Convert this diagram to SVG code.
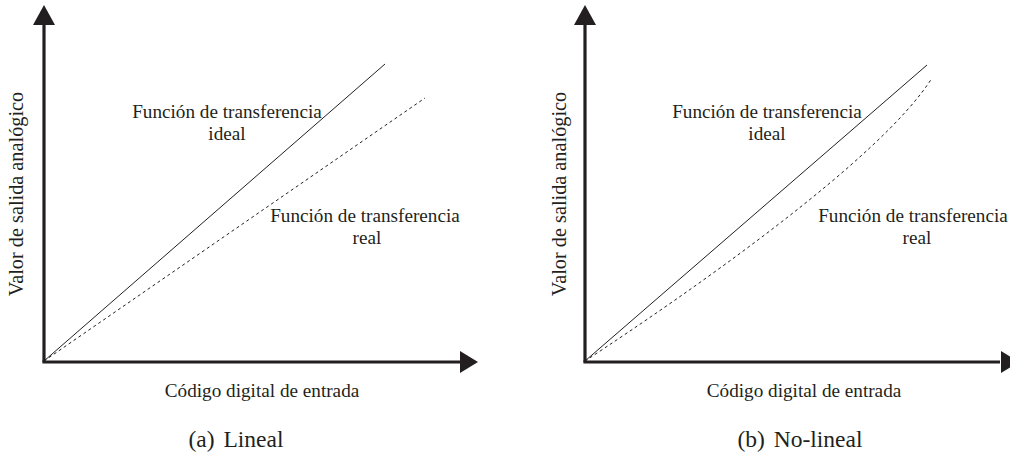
<svg xmlns="http://www.w3.org/2000/svg" width="1010" height="461" viewBox="0 0 1010 461">
  <style>
    .axis { stroke: #231f20; stroke-width: 3.2; fill: none; }
    .ideal { stroke: #231f20; stroke-width: 1; fill: none; }
    .real { stroke: #231f20; stroke-width: 1; fill: none; stroke-dasharray: 3 3; }
    .lbl { font-family: 'Liberation Serif', 'Times New Roman', serif; font-size: 19.2px; fill: #231f20; text-anchor: middle; }
    .ylbl { font-size: 20.3px; }
    .cap { font-family: 'Liberation Serif', 'Times New Roman', serif; font-size: 23.5px; fill: #231f20; text-anchor: middle; word-spacing: 3px; }
    .head { fill: #231f20; }
  </style>
  <rect width="1010" height="461" fill="#ffffff"/>

  <!-- (a) linear transfer function -->
  <g id="plot-a">
    <g id="axes-a">
      <line class="axis" x1="44" y1="362" x2="44" y2="22"/>
      <polygon class="head" points="44,5 33,25 55,25"/>
      <line class="axis" x1="42.4" y1="362" x2="462" y2="362"/>
      <polygon class="head" points="478,362 460,351 460,373"/>
    </g>
    <g id="curves-a">
      <line class="ideal" x1="44" y1="361" x2="385" y2="64"/>
      <line class="real" x1="44" y1="361" x2="425" y2="98"/>
    </g>
    <g id="labels-a">
      <text class="lbl" x="227" y="118">Función de transferencia</text>
      <text class="lbl" x="227" y="140">ideal</text>
      <text class="lbl" x="365" y="222">Función de transferencia</text>
      <text class="lbl" x="367" y="244">real</text>
      <text class="lbl" x="262" y="397">Código digital de entrada</text>
      <text class="lbl ylbl" transform="translate(23,194) rotate(-90)">Valor de salida analógico</text>
    </g>
    <text class="cap" x="236" y="447">(a) Lineal</text>
  </g>

  <!-- (b) non-linear transfer function -->
  <g id="plot-b">
    <g id="axes-b">
      <line class="axis" x1="585" y1="362" x2="585" y2="22"/>
      <polygon class="head" points="585,5 574,25 596,25"/>
      <line class="axis" x1="583.4" y1="362" x2="1000" y2="362"/>
      <polygon class="head" points="1019,362 1001,351 1001,373"/>
    </g>
    <g id="curves-b">
      <line class="ideal" x1="585" y1="361" x2="927" y2="65"/>
      <path class="real" d="M585,361 C690,292 880,160 932,78"/>
    </g>
    <g id="labels-b">
      <text class="lbl" x="767" y="118">Función de transferencia</text>
      <text class="lbl" x="767" y="140">ideal</text>
      <text class="lbl" x="913" y="222">Función de transferencia</text>
      <text class="lbl" x="917" y="244">real</text>
      <text class="lbl" x="804" y="397">Código digital de entrada</text>
      <text class="lbl ylbl" transform="translate(566,194) rotate(-90)">Valor de salida analógico</text>
    </g>
    <text class="cap" x="800" y="447">(b) No-lineal</text>
  </g>
</svg>
